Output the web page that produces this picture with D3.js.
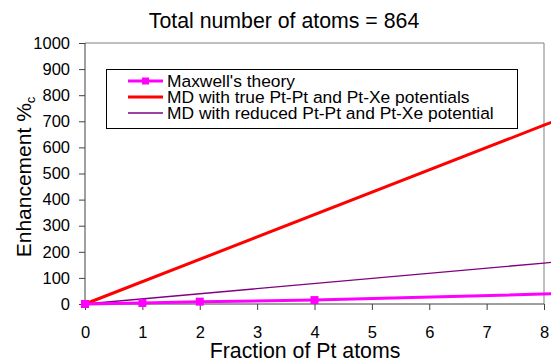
<!DOCTYPE html>
<meta charset="utf-8">
<style>
    body { margin: 0; background: white; }
    text { font-family: "Liberation Sans", Arial, sans-serif; fill: black; }
    .axis path, .axis line { stroke: #404040; }
</style>
<body>
<div id="chart"></div>
<script src="https://d3js.org/d3.v7.min.js"></script>
<script>
    // values
    var xTicks = [0, 1, 2, 3, 4, 5, 6, 7, 8];
    var yTicks = [0, 100, 200, 300, 400, 500, 600, 700, 800, 900, 1000];

    var maxwellX = [0, 1, 2, 4, 10];
    var maxwellY = [0, 4, 9, 15, 50];

    var trueX = [0, 8, 16];
    var trueY = [0, 685, 1370];

    var reducedX = [0, 8, 16];
    var reducedY = [0, 157, 314];

    var seriesNames = ["Maxwell's theory",
        "MD with true Pt-Pt and Pt-Xe potentials",
        "MD with reduced Pt-Pt and Pt-Xe potential"];

    var width = 551,
        height = 362;

    var svg = d3.select("#chart").append("svg")
        .attr("width", width)
        .attr("height", height);

    var x = d3.scaleLinear().domain([0, 8]).range([85, 544]);
    var y = d3.scaleLinear().domain([0, 1000]).range([304, 43]);

    // plot frame (top and right)
    svg.append("path")
        .attr("d", "M" + x(0) + "," + y(1000) + "H" + x(8) + "V" + y(0))
        .attr("fill", "none")
        .attr("stroke", "#808080")
        .attr("stroke-width", 1);

    svg.append("g")
        .attr("class", "axis")
        .attr("transform", "translate(0," + y(0) + ")")
        .call(d3.axisBottom(x).tickValues(xTicks).tickSize(6).tickPadding(16))
        .call(function(g) {
            g.select(".domain").attr("d", "M" + x(0) + ",0H" + x(8));
            g.selectAll("text").style("font-size", "16.5px");
        });

    svg.append("g")
        .attr("class", "axis")
        .attr("transform", "translate(" + x(0) + ",0)")
        .call(d3.axisLeft(y).tickValues(yTicks).tickSize(6).tickPadding(9)
            .tickFormat(d3.format("d")))
        .call(function(g) {
            g.select(".domain").attr("d", "M0," + y(0) + "V" + y(1000));
            g.selectAll("text").style("font-size", "16.5px");
        });

    var line = d3.line()
        .x(function(d) { return x(d[0]); })
        .y(function(d) { return y(d[1]); });

    var maxwell = d3.zip(maxwellX, maxwellY);
    var trueLine = d3.zip(trueX, trueY);
    var reduced = d3.zip(reducedX, reducedY);

    svg.append("path")
        .datum(reduced)
        .attr("d", line)
        .attr("fill", "none")
        .attr("stroke", "#800080")
        .attr("stroke-width", 1.3);

    svg.append("path")
        .datum(trueLine)
        .attr("d", line)
        .attr("fill", "none")
        .attr("stroke", "#ff0000")
        .attr("stroke-width", 3);

    svg.append("path")
        .datum(maxwell)
        .attr("d", line)
        .attr("fill", "none")
        .attr("stroke", "#ff00ff")
        .attr("stroke-width", 3);

    svg.selectAll("rect.marker")
        .data(maxwell)
        .enter().append("rect")
        .attr("class", "marker")
        .attr("x", function(d) { return x(d[0]) - 4; })
        .attr("y", function(d) { return y(d[1]) - 4; })
        .attr("width", 8)
        .attr("height", 8)
        .attr("fill", "#ff00ff");

    // legend
    var legend = svg.append("g");
    legend.append("rect")
        .attr("x", 106.5).attr("y", 69.5)
        .attr("width", 411).attr("height", 59)
        .attr("fill", "white")
        .attr("stroke", "black");

    var legStyles = [
        { color: "#ff00ff", w: 3, marker: true },
        { color: "#ff0000", w: 3, marker: false },
        { color: "#800080", w: 1.3, marker: false }
    ];

    seriesNames.forEach(function(name, i) {
        var ly = 81 + i * 16;
        legend.append("line")
            .attr("x1", 128).attr("x2", 163)
            .attr("y1", ly).attr("y2", ly)
            .attr("stroke", legStyles[i].color)
            .attr("stroke-width", legStyles[i].w);
        if (legStyles[i].marker) {
            legend.append("rect")
                .attr("x", 142).attr("y", ly - 3.5)
                .attr("width", 7).attr("height", 7)
                .attr("fill", legStyles[i].color);
        }
        legend.append("text")
            .attr("x", 167).attr("y", ly + 6)
            .style("font-size", "17.4px")
            .text(name);
    });

    // titles
    svg.append("text")
        .attr("x", 284).attr("y", 28)
        .attr("text-anchor", "middle")
        .style("font-size", "21.3px")
        .text("Total number of atoms = 864");

    svg.append("text")
        .attr("x", 305).attr("y", 358)
        .attr("text-anchor", "middle")
        .style("font-size", "21.3px")
        .text("Fraction of Pt atoms");

    var yt = svg.append("text")
        .attr("transform", "translate(31,177) rotate(-90)")
        .attr("text-anchor", "middle")
        .style("font-size", "21px");
    yt.append("tspan").text("Enhancement %");
    yt.append("tspan").attr("dy", 4).style("font-size", "13px").text("c");
</script>
</body>
